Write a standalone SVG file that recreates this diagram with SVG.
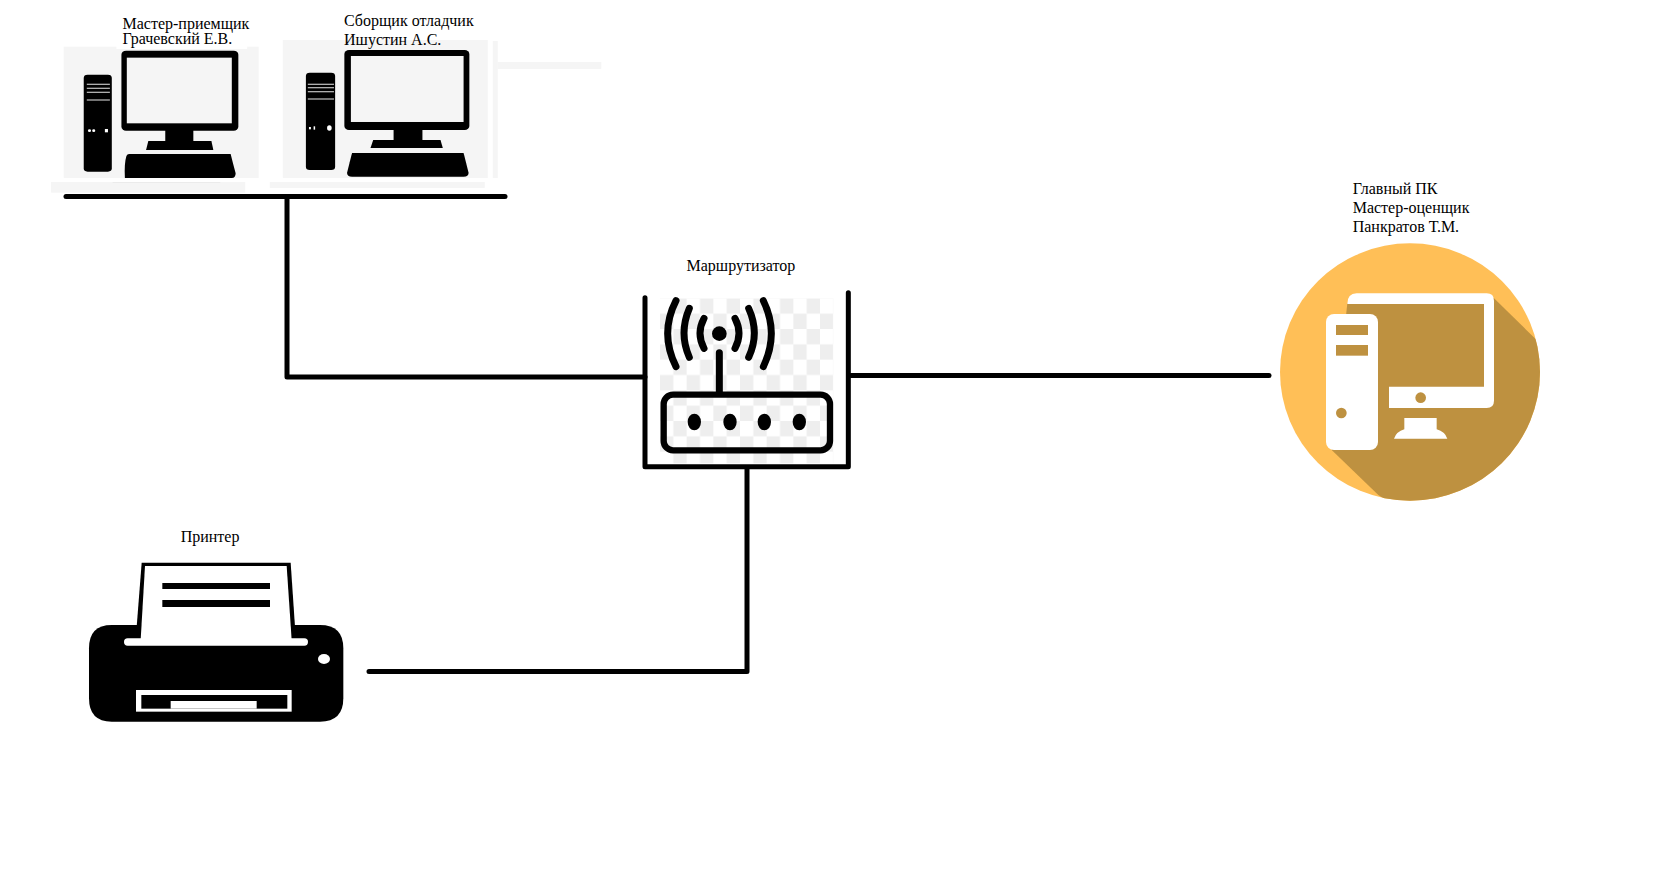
<svg xmlns="http://www.w3.org/2000/svg" width="1674" height="881" viewBox="0 0 1674 881">
<style>
text{font-family:"Liberation Serif","Times New Roman",serif;font-size:16px;fill:#000}
.link{fill:none;stroke:#000;stroke-width:5;stroke-linecap:round;stroke-linejoin:round}
.bg{fill:#f5f5f5}
.k{fill:#000}
.w{fill:#fff}
.sl{stroke:#e8e8e8;stroke-width:3;fill:none}
.arc{fill:none;stroke:#000;stroke-width:21;stroke-linecap:round}
.br{fill:#be9140}
</style>
<defs>
<pattern id="chk" x="120" y="175" width="80" height="92" patternUnits="userSpaceOnUse">
<rect x="40" y="0" width="40" height="46" fill="#eeeeee"/>
<rect x="0" y="46" width="40" height="46" fill="#eeeeee"/>
</pattern>
<clipPath id="cc"><ellipse cx="450" cy="606" rx="390" ry="386"/></clipPath>
</defs>
<rect width="1674" height="881" fill="#fff"/>
<g id="pc1">
<g transform="translate(39.5 0) scale(.3846 .3333)">
<rect class="bg" x="63" y="140" width="507" height="394"/>
<rect class="bg" x="30" y="546" width="505" height="32"/>
<rect fill="#ebebeb" x="190" y="546" width="280" height="3"/>
<rect class="w" x="200" y="130" width="340" height="17"/>
<rect class="k" x="213" y="152" width="304" height="240" rx="12"/>
<rect class="bg" x="227" y="173" width="273" height="197"/>
<rect class="k" x="327" y="390" width="73" height="36"/>
<path class="k" d="M283 423H447L452 450H277Z"/>
<path class="k" d="M233 462H497Q503 490 510 520Q510 534 500 534H222Q220 490 226 468Q228 462 233 462Z"/>
<rect class="k" x="115" y="224" width="73" height="291" rx="10"/>
<path class="sl" d="M123 253H183M123 265H183M123 277H183M123 300H183"/>
<circle class="w" cx="130" cy="392" r="4"/><circle class="w" cx="141" cy="392" r="4"/><rect class="w" x="170" y="387" width="8" height="10"/>
</g>
<text x="122.5" y="29">Мастер-приемщик</text>
<text x="122.5" y="44">Грачевский Е.В.</text>
</g>
<g id="pc2">
<g transform="translate(38.6 0) scale(.3846 .3333)">
<rect class="bg" x="635" y="120" width="533" height="414"/>
<rect class="bg" x="601" y="546" width="559" height="18"/>
<rect class="bg" x="1181" y="123" width="13" height="411"/>
<rect class="bg" x="1194" y="186" width="269" height="21"/>
<rect class="k" x="795" y="150" width="325" height="240" rx="12"/>
<rect class="bg" x="812" y="168" width="293" height="198"/>
<rect class="k" x="923" y="388" width="75" height="34"/>
<path class="k" d="M870 420H1045L1051 444H863Z"/>
<path class="k" d="M815 459H1105Q1112 490 1118 518Q1118 530 1105 530H815Q802 530 802 518Q808 490 815 459Z"/>
<rect class="k" x="695" y="218" width="76" height="292" rx="10"/>
<path class="sl" d="M700 253H768M700 263H768M700 275H768M700 297H768"/>
<rect class="w" x="703" y="381" width="5" height="7"/><rect class="w" x="715" y="379" width="4" height="10"/><ellipse class="w" cx="756" cy="384" rx="6" ry="8"/>
</g>
<text x="344" y="26">Сборщик отладчик</text>
<text x="344" y="45">Ишустин А.С.</text>
</g>
<g id="router">
<g transform="translate(620 240) scale(.33333)">
<rect x="120" y="175" width="520" height="495" fill="url(#chk)"/>
<path class="link" d="M75 173V680H685V158" style="stroke-width:15"/>
<circle class="k" cx="298" cy="281" r="22"/>
<path class="arc" d="M298 338V460"/>
<path class="arc" d="M252 235Q228 280 252 325M208 205Q176 280 208 352M168 182Q118 280 168 380M345 235Q369 280 345 325M386 205Q420 280 386 352M430 182Q478 280 430 380"/>
<rect x="131" y="464" width="499" height="167" rx="28" fill="none" stroke="#000" stroke-width="19"/>
<ellipse class="k" cx="223" cy="546" rx="20" ry="25"/>
<ellipse class="k" cx="330" cy="546" rx="20" ry="25"/>
<ellipse class="k" cx="433" cy="546" rx="20" ry="25"/>
<ellipse class="k" cx="538" cy="546" rx="20" ry="25"/>
</g>
<text x="686.5" y="271">Маршрутизатор</text>
</g>
<g id="main-pc">
<g transform="translate(1260 170) scale(.33333)">
<ellipse cx="450" cy="606" rx="390" ry="386" fill="#ffbf57"/>
<path class="br" clip-path="url(#cc)" d="M262 400L702 385L830 510L1100 780L700 1200L355 975L215 840Z"/>
<path class="w" d="M262 402Q262 370 290 370H680Q702 370 702 392V692Q702 714 680 714H387V650H672V402Z"/>
<rect class="w" x="198" y="432" width="156" height="408" rx="24"/>
<rect class="br" x="228" y="465" width="96" height="30"/>
<rect class="br" x="228" y="525" width="96" height="32"/>
<circle class="br" cx="244" cy="729" r="16"/>
<circle class="br" cx="482" cy="683" r="16"/>
<path class="w" d="M433 744H530V778Q555 785 562 806H402Q409 785 433 778Z"/>
</g>
<text x="1352.7" y="194">Главный ПК</text>
<text x="1352.7" y="213">Мастер-оценщик</text>
<text x="1352.7" y="232">Панкратов Т.М.</text>
</g>
<g id="printer">
<g transform="translate(70 520) scale(.33333)">
<path class="k" d="M125 315H750Q820 315 820 385V535Q820 605 750 605H125Q57 605 57 535V385Q57 315 125 315Z"/>
<path class="k" d="M215 128H662L675 320H200Z"/>
<path class="w" d="M225 138H650L665 360H212Z"/>
<rect class="w" x="162" y="355" width="552" height="22" rx="11"/>
<rect class="k" x="277" y="189" width="323" height="18"/>
<rect class="k" x="277" y="240" width="323" height="21"/>
<ellipse class="w" cx="762" cy="417" rx="18" ry="15"/>
<rect class="w" x="198" y="510" width="467" height="65"/>
<rect class="k" x="214" y="525" width="438" height="41"/>
<rect class="w" x="302" y="543" width="258" height="23"/>
</g>
<text x="180.7" y="542">Принтер</text>
</g>
<g id="connectors">
<path class="link" d="M66 196.5H505"/>
<path class="link" d="M287 196.5V377H645"/>
<path class="link" d="M851 375.5H1269"/>
<path class="link" d="M369 671.5H747V468"/>
</g>
</svg>
